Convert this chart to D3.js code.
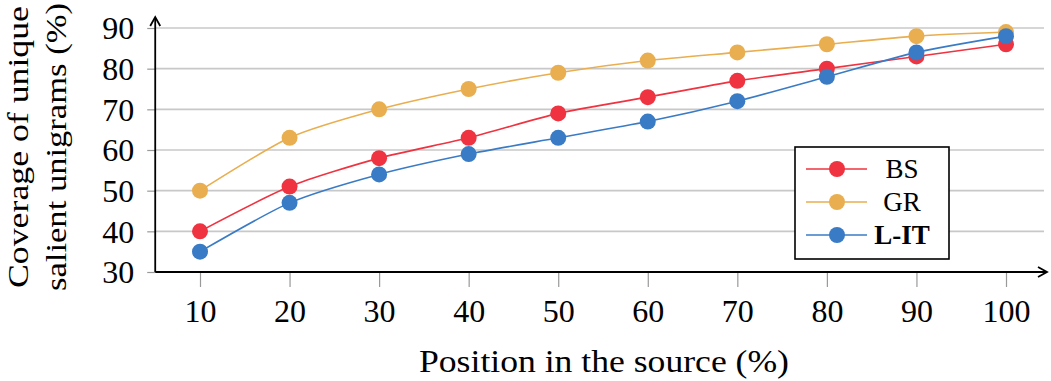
<!DOCTYPE html>
<html>
<head>
<meta charset="utf-8">
<script src="https://cdn.jsdelivr.net/npm/d3@7"></script>
<style>
  html, body { margin: 0; padding: 0; background: #fff; }
  svg text { font-family: "Liberation Serif", "DejaVu Serif", serif; fill: #000; }
</style>
</head>
<body>
<div id="chart"></div>
<script>
const positions = [10, 20, 30, 40, 50, 60, 70, 80, 90, 100];
const bsValues  = [40, 51, 58, 63, 69, 73, 77, 80, 83, 86];
const grValues  = [50, 63, 70, 75, 79, 82, 84, 86, 88, 89];
const litValues = [35, 47, 54, 59, 63, 67, 72, 78, 84, 88];
const yTicks = [30, 40, 50, 60, 70, 80, 90];
const seriesNames = ["BS", "GR", "L-IT"];

const width = 1051, height = 381;
const colors = { "BS": "#ef3340", "GR": "#e9ae4f", "L-IT": "#3a7bc6" };

const svg = d3.select("#chart").append("svg")
  .attr("width", width)
  .attr("height", height);

const x = d3.scaleLinear().domain([10, 100]).range([200, 1006]);
const y = d3.scaleLinear().domain([30, 90]).range([272, 28]);

const x0 = x(5);      // where the axes meet
const xEnd = 1046;

// grid lines
svg.append("g").selectAll("line")
  .data(yTicks.filter(t => t > 30))
  .enter().append("line")
  .attr("x1", x0).attr("x2", xEnd - 2)
  .attr("y1", d => y(d)).attr("y2", d => y(d))
  .attr("stroke", "#c8c8c8")
  .attr("stroke-width", 1.6);

// y ticks + labels
const yAxis = d3.axisLeft(y).tickValues(yTicks).tickSize(8).tickPadding(13);
const gy = svg.append("g").attr("transform", `translate(${x0},0)`).call(yAxis);
gy.select(".domain").remove();
gy.selectAll(".tick line").attr("stroke", "#999").attr("stroke-width", 1.2);
gy.selectAll(".tick text")
  .style("font-family", "'Liberation Serif', serif")
  .style("font-size", "32px")
  .attr("dy", "0.34em");

// x ticks + labels
const xAxis = d3.axisBottom(x).tickValues(positions).tickSize(15).tickPadding(12);
const gx = svg.append("g").attr("transform", `translate(0,${y(30)})`).call(xAxis);
gx.select(".domain").remove();
gx.selectAll(".tick line").attr("stroke", "#999").attr("stroke-width", 1.2);
gx.selectAll(".tick text")
  .style("font-family", "'Liberation Serif', serif")
  .style("font-size", "32px")
  .attr("dy", "0.71em");

// axis lines with arrows
svg.append("line")
  .attr("x1", x0).attr("x2", xEnd)
  .attr("y1", y(30)).attr("y2", y(30))
  .attr("stroke", "#000").attr("stroke-width", 1.8);
svg.append("path")
  .attr("d", `M${xEnd - 8},${y(30) - 5} L${xEnd + 1},${y(30)} L${xEnd - 8},${y(30) + 5}`)
  .attr("fill", "none").attr("stroke", "#000").attr("stroke-width", 1.8);
svg.append("line")
  .attr("x1", x0).attr("x2", x0)
  .attr("y1", y(30)).attr("y2", 18)
  .attr("stroke", "#000").attr("stroke-width", 1.8);
svg.append("path")
  .attr("d", `M${x0 - 5},${26} L${x0},${17} L${x0 + 5},${26}`)
  .attr("fill", "none").attr("stroke", "#000").attr("stroke-width", 1.8);

// series
const series = [
  { name: "BS", values: bsValues },
  { name: "GR", values: grValues },
  { name: "L-IT", values: litValues }
];

const line = d3.line()
  .x((d, i) => x(positions[i]))
  .y(d => y(d))
  .curve(d3.curveCardinal.tension(0.3));

series.forEach(s => {
  svg.append("path")
    .datum(s.values)
    .attr("d", line)
    .attr("fill", "none")
    .attr("stroke", colors[s.name])
    .attr("stroke-width", 1.6);
});
series.forEach(s => {
  svg.append("g").selectAll("circle")
    .data(s.values)
    .enter().append("circle")
    .attr("cx", (d, i) => x(positions[i]))
    .attr("cy", d => y(d))
    .attr("r", 8)
    .attr("fill", colors[s.name]);
});

// legend
const legend = svg.append("g").attr("transform", "translate(795,147)");
legend.append("rect")
  .attr("width", 154).attr("height", 112)
  .attr("fill", "#fff").attr("stroke", "#000").attr("stroke-width", 1.6);
seriesNames.forEach((name, i) => {
  const row = legend.append("g").attr("transform", `translate(0,${22 + i * 33})`);
  row.append("line")
    .attr("x1", 11).attr("x2", 72)
    .attr("stroke", colors[name]).attr("stroke-width", 1.6);
  row.append("circle").attr("cx", 42).attr("r", 8).attr("fill", colors[name]);
  row.append("text")
    .attr("x", 107).attr("dy", "0.35em")
    .attr("text-anchor", "middle")
    .style("font-size", "27px")
    .style("font-weight", name === "L-IT" ? "bold" : "normal")
    .text(name);
});

// axis titles
svg.append("text")
  .attr("x", 604).attr("y", 372)
  .attr("text-anchor", "middle")
  .attr("textLength", 370)
  .attr("lengthAdjust", "spacingAndGlyphs")
  .style("font-size", "31px")
  .text("Position in the source (%)");

svg.append("text")
  .attr("transform", "translate(28,147) rotate(-90)")
  .attr("text-anchor", "middle")
  .attr("textLength", 282)
  .attr("lengthAdjust", "spacingAndGlyphs")
  .style("font-size", "30px")
  .text("Coverage of unique");
svg.append("text")
  .attr("transform", "translate(66,147) rotate(-90)")
  .attr("text-anchor", "middle")
  .attr("textLength", 288)
  .attr("lengthAdjust", "spacingAndGlyphs")
  .style("font-size", "30px")
  .text("salient unigrams (%)");
</script>
</body>
</html>
